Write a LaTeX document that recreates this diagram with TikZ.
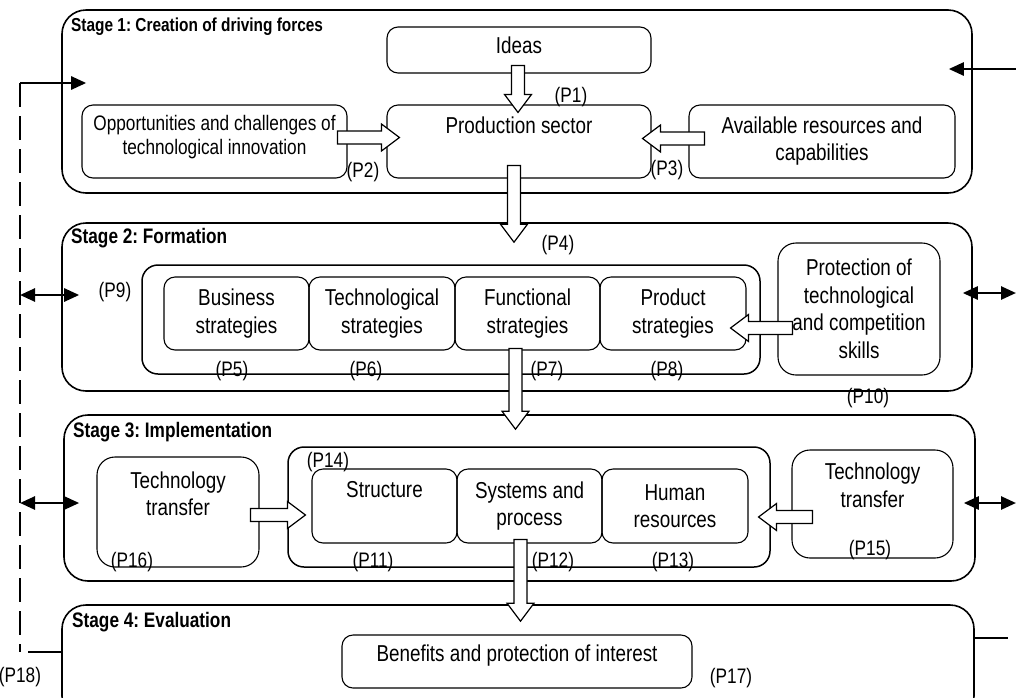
\documentclass[tikz,border=0pt]{standalone}
\usepackage{fontspec}
\setmainfont{Liberation Sans}[FakeStretch=0.82]
\usetikzlibrary{calc, arrows.meta}
\frenchspacing

\newcommand{\boxfont}{\fontsize{23}{27.5}\selectfont}
\newcommand{\oppfont}{\fontsize{21}{24.5}\selectfont}
\newcommand{\labfont}{\fontsize{21}{24}\selectfont}
\newcommand{\stagefont}{\fontsize{21}{24}\selectfont\bfseries}
\newcommand{\stagefontsmall}{\fontsize{18.8}{22}\selectfont\bfseries}

% hollow block arrow from #1 to its tip #2
\newcommand{\fatarrow}[2]{%
	\draw[fatline] let \p1=(#1), \p2=(#2), \n1={atan2(\y2-\y1,\x2-\x1)}, \n2={veclen(\x2-\x1,\y2-\y1)} in
		{[shift={(\p1)}, rotate=\n1] (0pt,-6.5pt) -- (\n2-18pt,-6.5pt) -- (\n2-18pt,-13.5pt) -- (\n2,0pt)
		-- (\n2-18pt,13.5pt) -- (\n2-18pt,6.5pt) -- (0pt,6.5pt) -- cycle};}

\tikzset{
	wh/.style 2 args={minimum width=#1pt, minimum height=#2pt},
	stagebox/.style={draw, rounded corners=24pt, line width=1.6pt, inner sep=0pt},
	groupbox/.style={draw, rounded corners=16pt, line width=1.5pt, inner sep=0pt},
	itembox/.style={draw, rounded corners=11pt, line width=1.1pt, align=center, font=\boxfont, inner sep=2pt},
	roundbox/.style={itembox, rounded corners=18pt},
	stagetitle/.style={anchor=west, inner sep=0pt, font=\stagefont},
	plabel/.style={inner sep=0pt, font=\labfont},
	fatline/.style={draw, fill=white, line width=1.2pt, line join=miter},
	loopline/.style={line width=2.6pt},
	looptip/.style={-{Triangle[length=15pt, width=13pt]}},
	bothtips/.style={{Triangle[length=15pt, width=13pt]}-{Triangle[length=15pt, width=13pt]}}
}

\begin{document}
\begin{tikzpicture}[x=1pt, y=-1pt]
	\useasboundingbox (0,0) rectangle (1016,697);
	\clip (0,0) rectangle (1016,697);

	% stage 1
	\node[stagebox, wh={910}{183}] (s1) at (517,101.5) {};
	\node[stagetitle, font=\stagefontsmall] (t1) at (71,27) {Stage 1: Creation of driving forces};
	\node[itembox, wh={264}{46}, text depth=10pt] (ideas) at (519,50) {Ideas};
	\node[itembox, wh={264}{73}, text depth=33pt] (prod) at (519,141.5) {Production sector};
	\node[itembox, wh={265}{73}, font=\oppfont, text depth=13pt] (opp) at (214.5,141.5) {Opportunities and challenges of\\technological innovation};
	\node[itembox, wh={266}{73}, text depth=6pt] (avail) at (822,141.5) {Available resources and\\capabilities};

	% stage 2
	\node[stagebox, wh={910}{168}] (s2) at (517,307) {};
	\node[stagetitle] (t2) at (71,238) {Stage 2: Formation};
	\node[groupbox, wh={618}{109}] (grp2) at (451,319.5) {};
	\node[itembox, wh={145}{73}] (bus) at (236.5,313.5) {Business\\strategies};
	\node[itembox, wh={146}{73}] (tech) at (382,313.5) {Technological\\strategies};
	\node[itembox, wh={145}{73}] (func) at (527.5,313.5) {Functional\\strategies};
	\node[itembox, wh={146}{73}] (prodstr) at (673,313.5) {Product\\strategies};
	\node[roundbox, wh={162}{132}] (prot) at (859,309) {Protection of\\technological\\and competition\\skills};

	% stage 3
	\node[stagebox, wh={911}{166}] (s3) at (519.5,498) {};
	\node[stagetitle] (t3) at (73,432) {Stage 3: Implementation};
	\node[roundbox, wh={162}{110}, text depth=37pt] (ttl) at (178,512) {Technology\\transfer};
	\node[groupbox, wh={482}{120}] (grp3) at (529,507) {};
	\node[itembox, wh={145}{74}, text depth=34pt] (struct) at (384.5,506) {Structure};
	\node[itembox, wh={145}{74}] (sysproc) at (529.5,506) {Systems and\\process};
	\node[itembox, wh={146}{74}] (human) at (675,506) {Human\\resources};
	\node[roundbox, wh={161}{108}, text depth=38pt] (ttr) at (872.5,504) {Technology\\transfer};

	% stage 4
	\node[stagebox, wh={912}{115}] (s4) at (518,662.5) {};
	\node[stagetitle] (t4) at (72,622) {Stage 4: Evaluation};
	\node[itembox, wh={350}{53}, text depth=17pt] (benefit) at (517,661.5) {Benefits and protection of interest};

	% feedback loop
	\coordinate (fbtop) at (20,83);
	\coordinate (fbbot) at (20,652);
	\coordinate (rtop) at (1016,69);
	\draw[loopline, dash pattern=on 24pt off 9pt] (fbtop) -- (fbbot);
	\draw[loopline, looptip] (fbtop) -- ($(s1.west |- fbtop)+(25,0)$);
	\draw[loopline, bothtips] ($(fbtop |- s2.west)+(0,-12)$) -- ($(s2.west)+(18,-12)$);
	\draw[loopline, bothtips] ($(fbtop |- s3.west)+(0,5)$) -- ($(s3.west)+(16,5)$);
	\draw[loopline] ($(fbbot)+(8,0)$) -- (s4.west |- fbbot);
	\draw[loopline, looptip] (rtop) -- ($(s1.east |- rtop)+(-24,0)$);
	\draw[loopline, bothtips] ($(s2.east)+(-10,-14)$) -- ($(rtop |- s2.east)+(0,-14)$);
	\draw[loopline, bothtips] ($(s3.east)+(-12,5)$) -- ($(rtop |- s3.east)+(0,5)$);
	\draw[loopline] ($(s4.east)+(0,-24.5)$) -- ($(s4.east)+(33,-24.5)$);

	% block arrows
	\fatarrow{$(ideas.south)+(-1,-8)$}{$(prod.north)+(-1,8)$}
	\fatarrow{$(opp.east)+(-10,-4)$}{$(prod.west)+(13,-4)$}
	\fatarrow{$(avail.west)+(16,-3)$}{$(prod.east)+(-9,-3)$}
	\fatarrow{$(prod.south)+(-5,-13)$}{$(s2.north)+(-3,20)$}
	\fatarrow{$(prot.west)+(15,19)$}{$(prodstr.east)+(-16,14.5)$}
	\fatarrow{$(func.south)+(-12,-2)$}{$(s3.north)+(-4,15)$}
	\fatarrow{$(ttl.east)+(-9,3)$}{$(struct.west)+(-6,9)$}
	\fatarrow{$(ttr.west)+(21,13)$}{$(human.east)+(10,11)$}
	\fatarrow{$(sysproc.south)+(-9,-4)$}{$(s4.north)+(2.5,17)$}

	% labels
	\node[plabel] (p1) at (571,97) {(P1)};
	\node[plabel] (p2) at (363,172) {(P2)};
	\node[plabel] (p3) at (667,170) {(P3)};
	\node[plabel] (p4) at (558,245) {(P4)};
	\node[plabel] (p5) at (232,371) {(P5)};
	\node[plabel] (p6) at (366,371) {(P6)};
	\node[plabel] (p7) at (547,371) {(P7)};
	\node[plabel] (p8) at (667,371) {(P8)};
	\node[plabel] (p9) at (115,292) {(P9)};
	\node[plabel] (p10) at (868,398) {(P10)};
	\node[plabel] (p11) at (373,562) {(P11)};
	\node[plabel] (p12) at (553,562) {(P12)};
	\node[plabel] (p13) at (673,562) {(P13)};
	\node[plabel] (p14) at (328,462) {(P14)};
	\node[plabel] (p15) at (870,550) {(P15)};
	\node[plabel] (p16) at (132,562) {(P16)};
	\node[plabel] (p17) at (731,678) {(P17)};
	\node[plabel] (p18) at (20,677) {(P18)};
\end{tikzpicture}
\end{document}
